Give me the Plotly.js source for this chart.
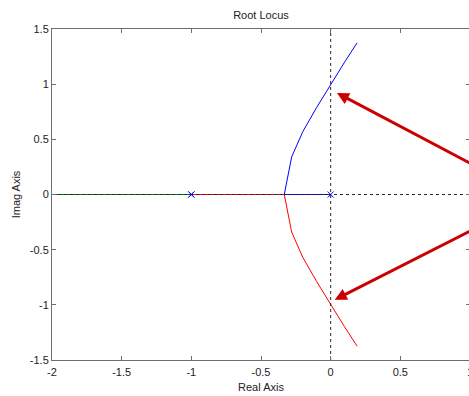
<!DOCTYPE html>
<html>
<head>
<meta charset="utf-8">
<script src="https://cdn.plot.ly/plotly-3.0.1.min.js"></script>
<style>
  html, body { margin: 0; padding: 0; overflow: hidden; background: #fff; }
  #chart { width: 480px; height: 396px; }
</style>
</head>
<body>
<div id="chart"></div>
<script>
// Branch 1 (blue): from pole at 0 to breakaway, then upward
const blueX = [0, -0.333, -0.28, -0.2, -0.1, 0, 0.1, 0.19];
const blueY = [0, 0, 0.34, 0.57, 0.79, 1.0, 1.2, 1.375];
// Branch 2 (red): from pole at -1 to breakaway, then downward
const redX = [-1, -0.333, -0.28, -0.2, -0.1, 0, 0.1, 0.19];
const redY = [0, 0, -0.34, -0.57, -0.79, -1.0, -1.2, -1.375];
// Branch 3 (green): from pole at -1 toward -infinity
const greenX = [-1, -1.5, -2.0, -2.4];
const greenY = [0, 0, 0, 0];
// Open-loop poles
const poleX = [0, -1, -1];
const poleY = [0, 0, 0];
// Tick values and labels
const xTicks = [-2, -1.5, -1, -0.5, 0, 0.5, 1];
const xTickText = ['-2', '-1.5', '-1', '-0.5', '0', '0.5', '1'];
const yTicks = [-1.5, -1, -0.5, 0, 0.5, 1, 1.5];
const yTickText = ['-1.5', '-1', '-0.5', '0', '0.5', '1', '1.5'];

const lineW = 1;
const traces = [
  {x: greenX, y: greenY, mode: 'lines', line: {color: 'rgb(0,128,0)', width: lineW}, hoverinfo: 'skip'},
  {x: redX, y: redY, mode: 'lines', line: {color: 'rgb(255,0,0)', width: lineW}, hoverinfo: 'skip'},
  {x: blueX, y: blueY, mode: 'lines', line: {color: 'rgb(0,0,255)', width: lineW}, hoverinfo: 'skip'},
  {x: [-2, 1], y: [0, 0], mode: 'lines', line: {color: 'rgb(40,40,40)', width: 1, dash: '3px,3px'}, hoverinfo: 'skip'},
  {x: [0, 0], y: [-1.5, 1.5], mode: 'lines', line: {color: 'rgb(40,40,40)', width: 1, dash: '3px,3px'}, hoverinfo: 'skip'},
  {x: poleX, y: poleY, mode: 'markers', marker: {symbol: 'x-thin', size: 6, line: {color: 'rgb(0,0,255)', width: 1}, color: 'rgb(0,0,255)'}, hoverinfo: 'skip'}
];

const font = {family: 'Liberation Sans, Arial, sans-serif', size: 11, color: '#222'};
const axisCommon = {
  showgrid: false, zeroline: false, showline: true, mirror: 'ticks',
  linecolor: '#6e6e6e', linewidth: 1, ticks: 'inside', ticklen: 4, tickcolor: '#6e6e6e',
  tickfont: font
};

const arrowColor = 'rgb(204,0,0)';
const layout = {
  width: 480, height: 396,
  margin: {l: 52, r: 10, t: 29, b: 36},
  paper_bgcolor: '#fff', plot_bgcolor: '#fff',
  showlegend: false,
  font: font,
  title: {text: 'Root Locus', font: font, x: 0.5, xref: 'paper', y: 1, yref: 'paper', yanchor: 'bottom', pad: {b: 10}},
  xaxis: Object.assign({}, axisCommon, {
    range: [-2, 1], tickvals: xTicks, ticktext: xTickText, ticklabelstandoff: 2,
    title: {text: 'Real Axis', font: font, standoff: 6}
  }),
  yaxis: Object.assign({}, axisCommon, {
    range: [-1.5, 1.5], tickvals: yTicks, ticktext: yTickText,
    title: {text: 'Imag Axis', font: font, standoff: 6}
  }),
  annotations: [
    {x: 0.045, y: 0.92, ax: 1.05, ay: 0.251, xref: 'x', yref: 'y', axref: 'x', ayref: 'y',
     showarrow: true, arrowhead: 2, arrowsize: 0.8, arrowwidth: 3, arrowcolor: arrowColor, text: ''},
    {x: 0.029, y: -0.955, ax: 1.05, ay: -0.30, xref: 'x', yref: 'y', axref: 'x', ayref: 'y',
     showarrow: true, arrowhead: 2, arrowsize: 0.8, arrowwidth: 3, arrowcolor: arrowColor, text: ''}
  ]
};

Plotly.newPlot('chart', traces, layout, {displayModeBar: false, staticPlot: true});
</script>
</body>
</html>
